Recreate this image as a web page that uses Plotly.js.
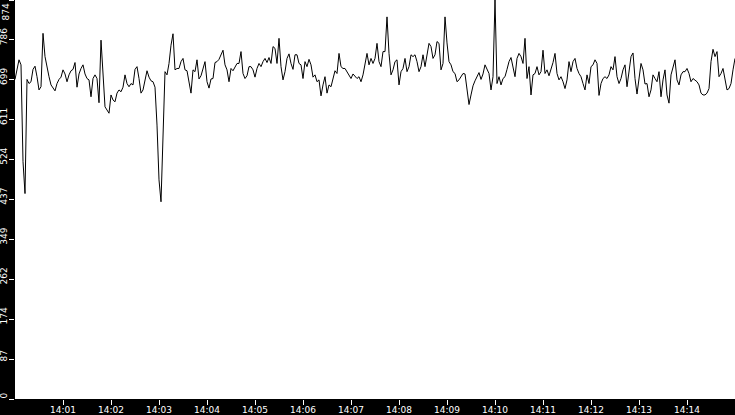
<!DOCTYPE html>
<html>
<head>
<meta charset="utf-8">
<script src="https://cdn.plot.ly/plotly-3.0.1.min.js"></script>
<style>
  html, body { margin: 0; padding: 0; background: #000; }
  #chart { width: 735px; height: 415px; }
</style>
</head>
<body>
<div id="chart"></div>
<script>
// samples every 2.5 s starting at 14:00:00
const startTime = '2024-01-01 14:00:00'
const stepSeconds = 2.5

const values = [
  700, 719, 743, 732, 520, 450, 700, 691, 695, 722, 729, 706, 677, 684, 801, 750, 724, 706, 688, 681,
  675, 691, 700, 705, 721, 712, 695, 710, 719, 722, 737, 683, 712, 724, 732, 712, 702, 699, 662, 702,
  710, 702, 649, 786, 720, 640, 633, 626, 666, 655, 651, 670, 677, 673, 683, 710, 691, 684, 691, 688,
  722, 728, 702, 670, 677, 695, 719, 705, 697, 695, 683, 600, 480, 432, 600, 717, 710, 735, 775, 800,
  721, 724, 724, 739, 746, 721, 719, 697, 670, 721, 717, 743, 701, 708, 724, 739, 695, 681, 701, 702,
  737, 739, 744, 754, 764, 732, 721, 695, 724, 719, 728, 735, 735, 761, 713, 702, 708, 728, 728, 721,
  705, 724, 735, 728, 739, 746, 737, 748, 735, 772, 768, 735, 790, 728, 699, 717, 746, 756, 735, 722,
  754, 754, 735, 732, 702, 739, 728, 744, 732, 705, 710, 695, 699, 664, 688, 706, 670, 688, 684, 699,
  719, 713, 757, 728, 724, 724, 717, 708, 702, 712, 706, 702, 706, 695, 710, 732, 757, 732, 746, 735,
  746, 779, 739, 728, 761, 761, 837, 757, 710, 721, 739, 743, 688, 717, 724, 746, 717, 728, 754, 750,
  754, 739, 717, 728, 754, 728, 750, 779, 772, 746, 754, 783, 779, 721, 735, 837, 780, 739, 732, 717,
  713, 695, 699, 706, 713, 712, 677, 645, 666, 686, 697, 708, 715, 700, 712, 732, 724, 713, 677, 706,
  874, 691, 706, 688, 702, 706, 722, 739, 748, 728, 706, 746, 757, 750, 735, 790, 702, 728, 666, 710,
  713, 728, 710, 717, 764, 713, 721, 708, 721, 737, 757, 713, 699, 706, 695, 680, 699, 739, 717, 739,
  746, 724, 713, 706, 691, 677, 710, 691, 728, 732, 743, 735, 665, 691, 702, 706, 702, 710, 728, 721,
  750, 706, 691, 702, 721, 732, 684, 721, 750, 758, 702, 668, 706, 735, 721, 690, 691, 662, 677, 710,
  702, 695, 717, 662, 699, 721, 666, 648, 710, 728, 743, 699, 688, 710, 717, 717, 724, 713, 695, 702,
  699, 695, 688, 670, 666, 666, 670, 680, 739, 766, 750, 761, 706, 713, 724, 699, 677, 680, 691, 721,
  746
]

const xTickVals = ['14:01', '14:02', '14:03', '14:04', '14:05', '14:06', '14:07',
  '14:08', '14:09', '14:10', '14:11', '14:12', '14:13', '14:14']
const yTickVals = [0, 87.4, 174.8, 262.2, 349.6, 437, 524.4, 611.8, 699.2, 786.6, 874]
const yTickText = ['0', '87', '174', '262', '349', '437', '524', '611', '699', '786', '']

function pad (n) { return (n < 10 ? '0' : '') + n }

// build timestamps from the regular sample step
const t0 = new Date(startTime.replace(' ', 'T')).getTime()
const times = values.map(function (v, i) {
  const d = new Date(t0 + i * stepSeconds * 1000)
  return '2024-01-01 ' + pad(d.getHours()) + ':' + pad(d.getMinutes()) + ':' +
    pad(d.getSeconds()) + '.' + (d.getMilliseconds() === 0 ? '000' : '500')
})

var data = [{
  x: times,
  y: values,
  type: 'scatter',
  mode: 'lines',
  line: { color: '#000', width: 1 },
  hoverinfo: 'x+y'
}]

var tickFont = { family: 'DejaVu Sans, sans-serif', size: 9, color: '#fff' }

var layout = {
  width: 735,
  height: 415,
  margin: { l: 15, r: 0, t: 0, b: 16, pad: 0 },
  paper_bgcolor: '#000',
  plot_bgcolor: '#fff',
  showlegend: false,
  xaxis: {
    type: 'date',
    range: ['2024-01-01 14:00:00', '2024-01-01 14:15:00'],
    tickvals: xTickVals.map(function (s) { return '2024-01-01 ' + s + ':00' }),
    ticktext: xTickVals,
    ticks: 'outside',
    ticklen: 5,
    tickcolor: '#fff',
    tickwidth: 1,
    tickfont: tickFont,
    ticklabelstandoff: -3,
    showgrid: false,
    zeroline: false,
    showline: false
  },
  yaxis: {
    range: [0, 874],
    tickvals: yTickVals,
    ticktext: yTickText,
    tickangle: -90,
    ticks: 'outside',
    ticklen: 5,
    tickcolor: '#fff',
    tickwidth: 1,
    tickfont: tickFont,
    ticklabelshift: -2,
    ticklabelstandoff: -2,
    showgrid: false,
    zeroline: false,
    showline: false
  },
  annotations: [{
    text: '874',
    xref: 'paper',
    yref: 'paper',
    x: 0,
    y: 1,
    xshift: -10,
    yshift: -2,
    xanchor: 'center',
    yanchor: 'top',
    textangle: -90,
    showarrow: false,
    font: tickFont
  }]
}

Plotly.newPlot('chart', data, layout, { displayModeBar: false, staticPlot: true })
</script>
</body>
</html>
